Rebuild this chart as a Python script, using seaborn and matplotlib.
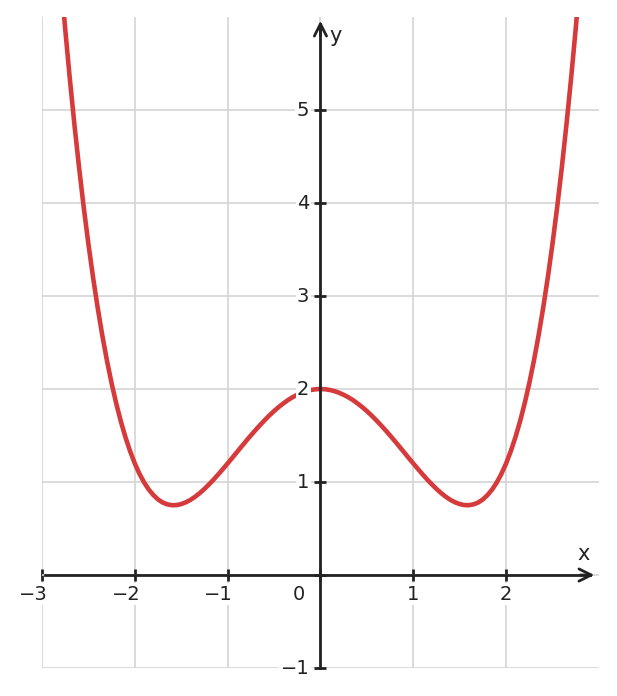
import numpy as np
import pandas as pd
import seaborn as sns
import matplotlib.pyplot as plt

# curve points (every 0.05 along x)
x_vals = [-2.8, -2.75, -2.7, -2.65, -2.6, -2.55, -2.5, -2.45, -2.4, -2.35, -2.3, -2.25,
          -2.2, -2.15, -2.1, -2.05, -2.0, -1.95, -1.9, -1.85, -1.8, -1.75, -1.7, -1.65,
          -1.6, -1.55, -1.5, -1.45, -1.4, -1.35, -1.3, -1.25, -1.2, -1.15, -1.1, -1.05,
          -1.0, -0.95, -0.9, -0.85, -0.8, -0.75, -0.7, -0.65, -0.6, -0.55, -0.5, -0.45,
          -0.4, -0.35, -0.3, -0.25, -0.2, -0.15, -0.1, -0.05, 0.0,
          0.05, 0.1, 0.15, 0.2, 0.25, 0.3, 0.35, 0.4, 0.45, 0.5, 0.55, 0.6, 0.65,
          0.7, 0.75, 0.8, 0.85, 0.9, 0.95, 1.0, 1.05, 1.1, 1.15, 1.2, 1.25, 1.3, 1.35,
          1.4, 1.45, 1.5, 1.55, 1.6, 1.65, 1.7, 1.75, 1.8, 1.85, 1.9, 1.95, 2.0, 2.05,
          2.1, 2.15, 2.2, 2.25, 2.3, 2.35, 2.4, 2.45, 2.5, 2.55, 2.6, 2.65, 2.7, 2.75, 2.8]
y_vals = [6.453, 5.876, 5.339, 4.841, 4.380, 3.954, 3.563, 3.204, 2.876, 2.577, 2.307, 2.063,
          1.845, 1.651, 1.480, 1.330, 1.200, 1.089, 0.996, 0.920, 0.860, 0.813, 0.780, 0.760,
          0.751, 0.752, 0.763, 0.782, 0.808, 0.842, 0.881, 0.926, 0.975, 1.027, 1.083, 1.141,
          1.200, 1.260, 1.321, 1.382, 1.442, 1.501, 1.558, 1.613, 1.666, 1.716, 1.763, 1.806,
          1.845, 1.881, 1.912, 1.938, 1.960, 1.978, 1.990, 1.998, 2.000,
          1.998, 1.990, 1.978, 1.960, 1.938, 1.912, 1.881, 1.845, 1.806, 1.763, 1.716, 1.666,
          1.613, 1.558, 1.501, 1.442, 1.382, 1.321, 1.260, 1.200, 1.141, 1.083, 1.027, 0.975,
          0.926, 0.881, 0.842, 0.808, 0.782, 0.763, 0.752, 0.751, 0.760, 0.780, 0.813, 0.860,
          0.920, 0.996, 1.089, 1.200, 1.330, 1.480, 1.651, 1.845, 2.063, 2.307, 2.577, 2.876,
          3.204, 3.563, 3.954, 4.380, 4.841, 5.339, 5.876, 6.453]

x_ticks = [-3, -2, -1, 0, 1, 2]
y_ticks = [-1, 1, 2, 3, 4, 5]

df = pd.DataFrame({"x": x_vals, "y": y_vals})

sns.set_style("white")
plt.rcParams['font.family'] = ['DejaVu Sans']

fig = plt.figure(figsize=(6.17, 6.96), dpi=100)
ax = fig.add_axes([0.068, 0.0402, 0.9027, 0.9353])

sns.lineplot(data=df, x="x", y="y", color="#d63a3a", lw=3.3, ax=ax, zorder=2, sort=False)

ax.set_xlim(-3, 3)
ax.set_ylim(-1, 6)
ax.set_xticks(x_ticks)
ax.set_yticks([-1, 0, 1, 2, 3, 4, 5])
ax.grid(True, color="#d4d4d4", lw=1.2)
ax.set_axisbelow(True)
ax.set_xlabel("")
ax.set_ylabel("")

# axes through the origin
for s in ["top", "right"]:
    ax.spines[s].set_visible(False)
ax.spines["left"].set_position(("data", 0))
ax.spines["bottom"].set_position(("data", 0))
ax.spines["left"].set_bounds(-1, 5.9)
ax.spines["bottom"].set_bounds(-2.97, 2.9)
for s in ["left", "bottom"]:
    ax.spines[s].set_color("#222222")
    ax.spines[s].set_linewidth(2)
    ax.spines[s].set_zorder(4)
ax.tick_params(direction="inout", length=8, width=2, color="#222222",
               bottom=True, left=True, labelleft=False, labelbottom=False)

ax.annotate("", xy=(2.95, 0), xytext=(2.8, 0),
            arrowprops=dict(arrowstyle="->", lw=2, color="#222222", mutation_scale=22,
                            shrinkA=0, shrinkB=0), zorder=5)
ax.annotate("", xy=(0, 5.96), xytext=(0, 5.8),
            arrowprops=dict(arrowstyle="->", lw=2, color="#222222", mutation_scale=22,
                            shrinkA=0, shrinkB=0), zorder=5)

box = dict(facecolor="white", edgecolor="none", pad=1)
for t in x_ticks:
    lbl = str(t).replace("-", "\u2212")
    dx = -11 if t == 0 else 4
    ax.annotate(lbl, xy=(t, 0), xytext=(dx, -7), textcoords="offset points",
                ha="right", va="top", fontsize=14, color="#222222", bbox=box, zorder=6)
for t in y_ticks:
    lbl = str(t).replace("-", "\u2212")
    ax.annotate(lbl, xy=(0, t), xytext=(-8, 0), textcoords="offset points",
                ha="right", va="center", fontsize=14, color="#222222", bbox=box, zorder=6)

ax.text(2.83, 0.12, "x", fontsize=15, color="#222222", ha="center", va="bottom")
ax.text(0.16, 5.8, "y", fontsize=15, color="#222222", ha="center", va="center")

fig.savefig("out.png", dpi=100)
